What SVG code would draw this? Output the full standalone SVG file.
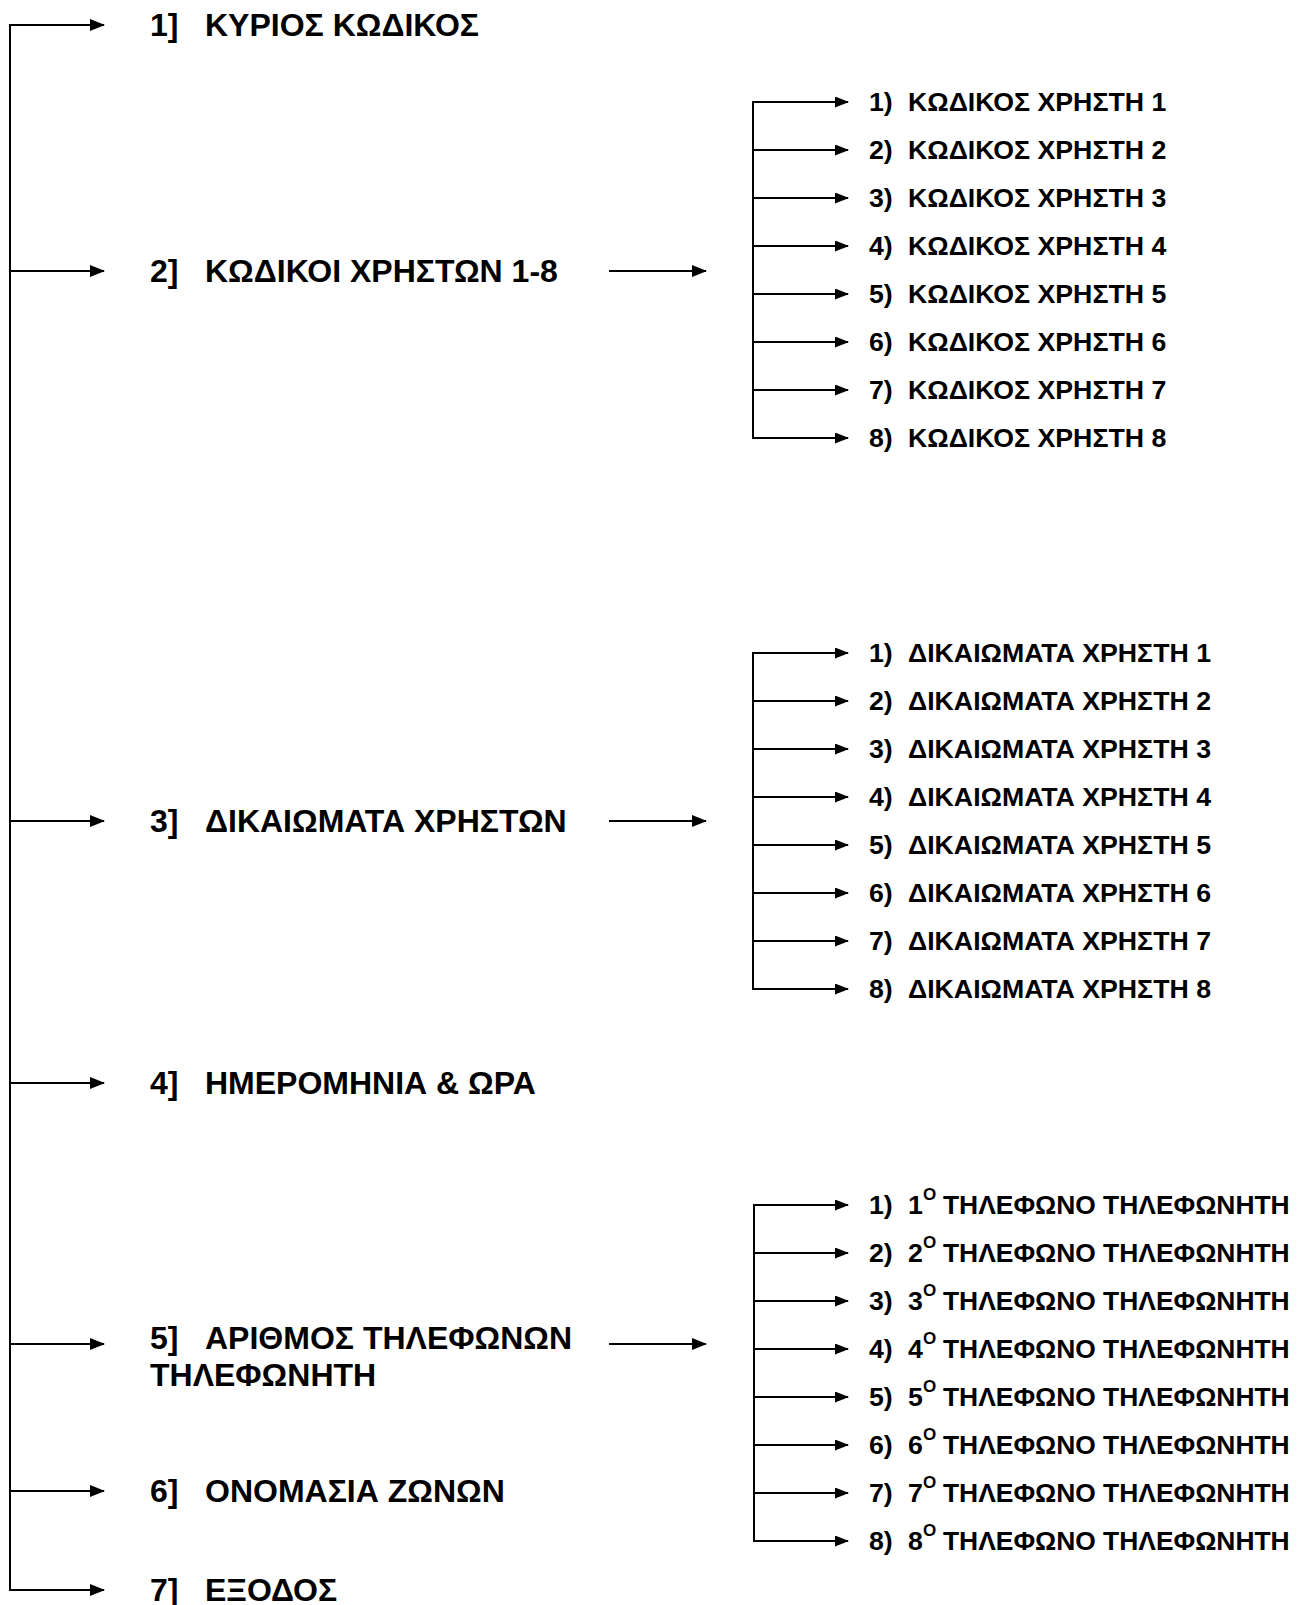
<svg xmlns="http://www.w3.org/2000/svg" width="1305" height="1605" viewBox="0 0 1305 1605">
<style>
.c line{stroke:#000;stroke-width:2;fill:none}
.a1{marker-end:url(#ah1)}
.a2{marker-end:url(#ah2)}
text{font-family:"Liberation Sans",Arial,sans-serif;font-weight:bold;fill:#000}
.l1{font-size:32px}
.l2{font-size:26.7px}
.l3{font-size:26.4px}
.sup{font-size:17px}
</style>
<defs>
<marker id="ah1" markerUnits="userSpaceOnUse" markerWidth="15" markerHeight="12" refX="14" refY="6" orient="auto"><path d="M0,0 L15,6 L0,12 z" fill="#000"/></marker>
<marker id="ah2" markerUnits="userSpaceOnUse" markerWidth="14" markerHeight="11" refX="13" refY="5.5" orient="auto"><path d="M0,0 L14,5.5 L0,11 z" fill="#000"/></marker>
</defs>
<rect width="1305" height="1605" fill="#fff"/>
<g id="connectors" class="c">
<line x1="10" y1="25" x2="10" y2="1590"/>
<line class="a1" x1="9" y1="25" x2="104" y2="25"/>
<line class="a1" x1="10" y1="271" x2="104" y2="271"/>
<line class="a1" x1="10" y1="821" x2="104" y2="821"/>
<line class="a1" x1="10" y1="1083" x2="104" y2="1083"/>
<line class="a1" x1="10" y1="1344" x2="104" y2="1344"/>
<line class="a1" x1="10" y1="1491" x2="104" y2="1491"/>
<line class="a1" x1="9" y1="1590" x2="104" y2="1590"/>
<line class="a1" x1="609" y1="271" x2="706" y2="271"/>
<line class="a1" x1="609" y1="821" x2="706" y2="821"/>
<line class="a1" x1="609" y1="1344" x2="706" y2="1344"/>
<line x1="753" y1="101" x2="753" y2="439"/>
<line class="a2" x1="752" y1="102" x2="848" y2="102"/>
<line class="a2" x1="753" y1="150" x2="848" y2="150"/>
<line class="a2" x1="753" y1="198" x2="848" y2="198"/>
<line class="a2" x1="753" y1="246" x2="848" y2="246"/>
<line class="a2" x1="753" y1="294" x2="848" y2="294"/>
<line class="a2" x1="753" y1="342" x2="848" y2="342"/>
<line class="a2" x1="753" y1="390" x2="848" y2="390"/>
<line class="a2" x1="752" y1="438" x2="848" y2="438"/>
<line x1="753" y1="652" x2="753" y2="990"/>
<line class="a2" x1="752" y1="653" x2="848" y2="653"/>
<line class="a2" x1="753" y1="701" x2="848" y2="701"/>
<line class="a2" x1="753" y1="749" x2="848" y2="749"/>
<line class="a2" x1="753" y1="797" x2="848" y2="797"/>
<line class="a2" x1="753" y1="845" x2="848" y2="845"/>
<line class="a2" x1="753" y1="893" x2="848" y2="893"/>
<line class="a2" x1="753" y1="941" x2="848" y2="941"/>
<line class="a2" x1="752" y1="989" x2="848" y2="989"/>
<line x1="754" y1="1204" x2="754" y2="1542"/>
<line class="a2" x1="753" y1="1205" x2="848" y2="1205"/>
<line class="a2" x1="754" y1="1253" x2="848" y2="1253"/>
<line class="a2" x1="754" y1="1301" x2="848" y2="1301"/>
<line class="a2" x1="754" y1="1349" x2="848" y2="1349"/>
<line class="a2" x1="754" y1="1397" x2="848" y2="1397"/>
<line class="a2" x1="754" y1="1445" x2="848" y2="1445"/>
<line class="a2" x1="754" y1="1493" x2="848" y2="1493"/>
<line class="a2" x1="753" y1="1541" x2="848" y2="1541"/>
</g>
<g id="n1"><text class="l1" x="150" y="36">1]</text><text class="l1" x="205" y="36">ΚΥΡΙΟΣ ΚΩΔΙΚΟΣ</text></g>
<g id="n2"><text class="l1" x="150" y="282">2]</text><text class="l1" x="205" y="282">ΚΩΔΙΚΟΙ ΧΡΗΣΤΩΝ 1-8</text></g>
<g id="n3"><text class="l1" x="150" y="832">3]</text><text class="l1" x="205" y="832">ΔΙΚΑΙΩΜΑΤΑ ΧΡΗΣΤΩΝ</text></g>
<g id="n4"><text class="l1" x="150" y="1094">4]</text><text class="l1" x="205" y="1094">ΗΜΕΡΟΜΗΝΙΑ &amp; ΩΡΑ</text></g>
<g id="n5"><text class="l1" x="150" y="1349">5]</text><text class="l1" x="205" y="1349">ΑΡΙΘΜΟΣ ΤΗΛΕΦΩΝΩΝ</text><text class="l1" x="150" y="1386">ΤΗΛΕΦΩΝΗΤΗ</text></g>
<g id="n6"><text class="l1" x="150" y="1502">6]</text><text class="l1" x="205" y="1502">ΟΝΟΜΑΣΙΑ ΖΩΝΩΝ</text></g>
<g id="n7"><text class="l1" x="150" y="1601">7]</text><text class="l1" x="205" y="1601">ΕΞΟΔΟΣ</text></g>
<g id="k1"><text class="l2" x="869" y="111">1)</text><text class="l2" x="908" y="111">ΚΩΔΙΚΟΣ ΧΡΗΣΤΗ 1</text></g>
<g id="k2"><text class="l2" x="869" y="159">2)</text><text class="l2" x="908" y="159">ΚΩΔΙΚΟΣ ΧΡΗΣΤΗ 2</text></g>
<g id="k3"><text class="l2" x="869" y="207">3)</text><text class="l2" x="908" y="207">ΚΩΔΙΚΟΣ ΧΡΗΣΤΗ 3</text></g>
<g id="k4"><text class="l2" x="869" y="255">4)</text><text class="l2" x="908" y="255">ΚΩΔΙΚΟΣ ΧΡΗΣΤΗ 4</text></g>
<g id="k5"><text class="l2" x="869" y="303">5)</text><text class="l2" x="908" y="303">ΚΩΔΙΚΟΣ ΧΡΗΣΤΗ 5</text></g>
<g id="k6"><text class="l2" x="869" y="351">6)</text><text class="l2" x="908" y="351">ΚΩΔΙΚΟΣ ΧΡΗΣΤΗ 6</text></g>
<g id="k7"><text class="l2" x="869" y="399">7)</text><text class="l2" x="908" y="399">ΚΩΔΙΚΟΣ ΧΡΗΣΤΗ 7</text></g>
<g id="k8"><text class="l2" x="869" y="447">8)</text><text class="l2" x="908" y="447">ΚΩΔΙΚΟΣ ΧΡΗΣΤΗ 8</text></g>
<g id="d1"><text class="l2" x="869" y="662">1)</text><text class="l2" x="908" y="662">ΔΙΚΑΙΩΜΑΤΑ ΧΡΗΣΤΗ 1</text></g>
<g id="d2"><text class="l2" x="869" y="710">2)</text><text class="l2" x="908" y="710">ΔΙΚΑΙΩΜΑΤΑ ΧΡΗΣΤΗ 2</text></g>
<g id="d3"><text class="l2" x="869" y="758">3)</text><text class="l2" x="908" y="758">ΔΙΚΑΙΩΜΑΤΑ ΧΡΗΣΤΗ 3</text></g>
<g id="d4"><text class="l2" x="869" y="806">4)</text><text class="l2" x="908" y="806">ΔΙΚΑΙΩΜΑΤΑ ΧΡΗΣΤΗ 4</text></g>
<g id="d5"><text class="l2" x="869" y="854">5)</text><text class="l2" x="908" y="854">ΔΙΚΑΙΩΜΑΤΑ ΧΡΗΣΤΗ 5</text></g>
<g id="d6"><text class="l2" x="869" y="902">6)</text><text class="l2" x="908" y="902">ΔΙΚΑΙΩΜΑΤΑ ΧΡΗΣΤΗ 6</text></g>
<g id="d7"><text class="l2" x="869" y="950">7)</text><text class="l2" x="908" y="950">ΔΙΚΑΙΩΜΑΤΑ ΧΡΗΣΤΗ 7</text></g>
<g id="d8"><text class="l2" x="869" y="998">8)</text><text class="l2" x="908" y="998">ΔΙΚΑΙΩΜΑΤΑ ΧΡΗΣΤΗ 8</text></g>
<g id="t1"><text class="l2" x="869" y="1214">1)</text><text class="l2" x="908" y="1214">1</text><text class="sup" x="923" y="1200">O</text><text class="l3" x="943" y="1214">ΤΗΛΕΦΩΝΟ ΤΗΛΕΦΩΝΗΤΗ</text></g>
<g id="t2"><text class="l2" x="869" y="1262">2)</text><text class="l2" x="908" y="1262">2</text><text class="sup" x="923" y="1248">O</text><text class="l3" x="943" y="1262">ΤΗΛΕΦΩΝΟ ΤΗΛΕΦΩΝΗΤΗ</text></g>
<g id="t3"><text class="l2" x="869" y="1310">3)</text><text class="l2" x="908" y="1310">3</text><text class="sup" x="923" y="1296">O</text><text class="l3" x="943" y="1310">ΤΗΛΕΦΩΝΟ ΤΗΛΕΦΩΝΗΤΗ</text></g>
<g id="t4"><text class="l2" x="869" y="1358">4)</text><text class="l2" x="908" y="1358">4</text><text class="sup" x="923" y="1344">O</text><text class="l3" x="943" y="1358">ΤΗΛΕΦΩΝΟ ΤΗΛΕΦΩΝΗΤΗ</text></g>
<g id="t5"><text class="l2" x="869" y="1406">5)</text><text class="l2" x="908" y="1406">5</text><text class="sup" x="923" y="1392">O</text><text class="l3" x="943" y="1406">ΤΗΛΕΦΩΝΟ ΤΗΛΕΦΩΝΗΤΗ</text></g>
<g id="t6"><text class="l2" x="869" y="1454">6)</text><text class="l2" x="908" y="1454">6</text><text class="sup" x="923" y="1440">O</text><text class="l3" x="943" y="1454">ΤΗΛΕΦΩΝΟ ΤΗΛΕΦΩΝΗΤΗ</text></g>
<g id="t7"><text class="l2" x="869" y="1502">7)</text><text class="l2" x="908" y="1502">7</text><text class="sup" x="923" y="1488">O</text><text class="l3" x="943" y="1502">ΤΗΛΕΦΩΝΟ ΤΗΛΕΦΩΝΗΤΗ</text></g>
<g id="t8"><text class="l2" x="869" y="1550">8)</text><text class="l2" x="908" y="1550">8</text><text class="sup" x="923" y="1536">O</text><text class="l3" x="943" y="1550">ΤΗΛΕΦΩΝΟ ΤΗΛΕΦΩΝΗΤΗ</text></g>
</svg>
